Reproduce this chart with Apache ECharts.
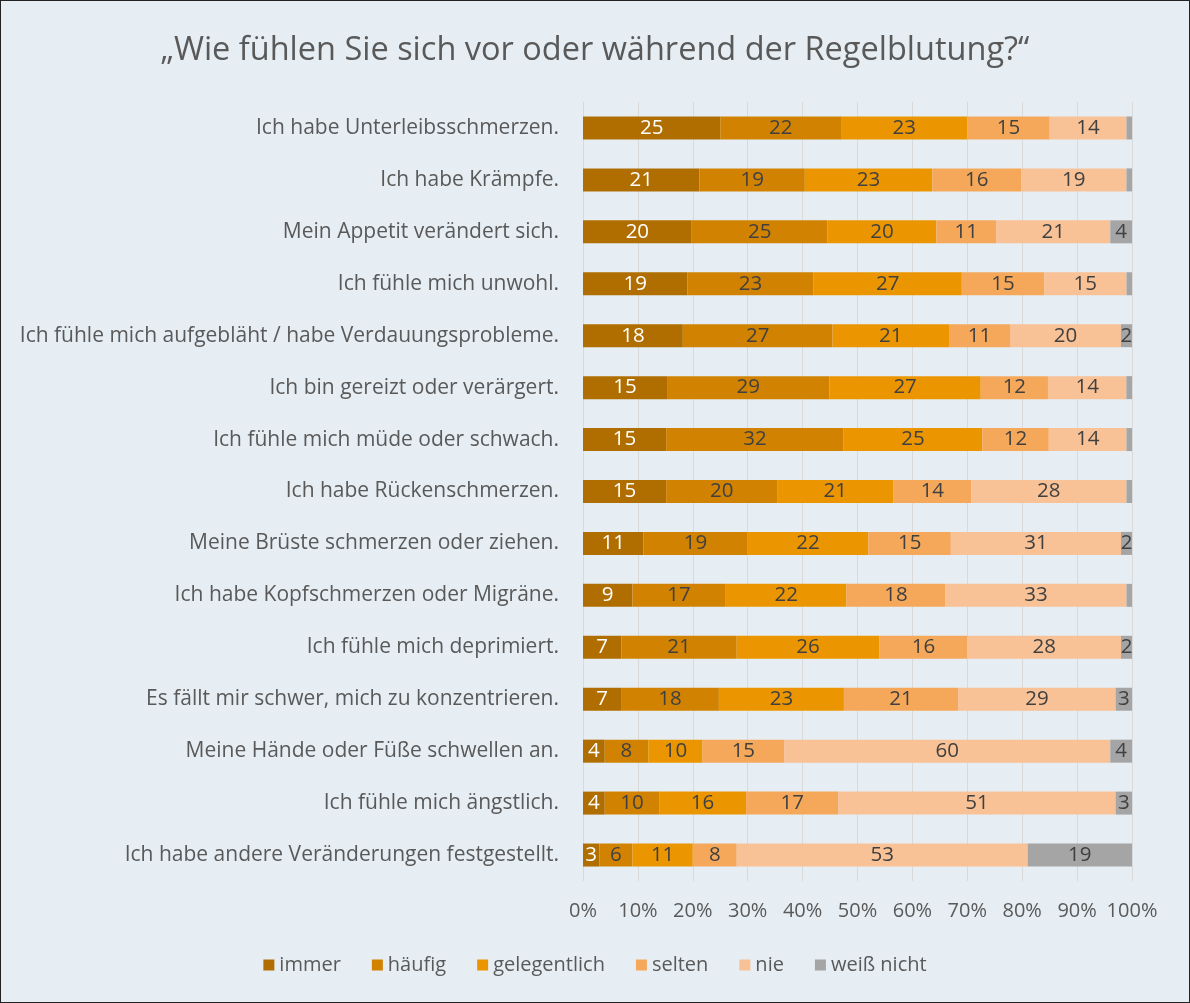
<!DOCTYPE html>
<html>
<head>
<meta charset="utf-8">
<script src="https://cdn.jsdelivr.net/npm/echarts@6/dist/echarts.min.js"></script>
<style>
  html, body { margin: 0; padding: 0; background: #e6eef4; }
  #chart { width: 1190px; height: 1003px; box-sizing: border-box; border: 1.5px solid #222; }
</style>
</head>
<body>
<div id="chart"></div>
<script>
// statements, top to bottom
const categories = [
  'Ich habe Unterleibsschmerzen.',
  'Ich habe Krämpfe.',
  'Mein Appetit verändert sich.',
  'Ich fühle mich unwohl.',
  'Ich fühle mich aufgebläht / habe Verdauungsprobleme.',
  'Ich bin gereizt oder verärgert.',
  'Ich fühle mich müde oder schwach.',
  'Ich habe Rückenschmerzen.',
  'Meine Brüste schmerzen oder ziehen.',
  'Ich habe Kopfschmerzen oder Migräne.',
  'Ich fühle mich deprimiert.',
  'Es fällt mir schwer, mich zu konzentrieren.',
  'Meine Hände oder Füße schwellen an.',
  'Ich fühle mich ängstlich.',
  'Ich habe andere Veränderungen festgestellt.'
];

const immer        = [25, 21, 20, 19, 18, 15, 15, 15, 11, 9, 7, 7, 4, 4, 3];
const haeufig      = [22, 19, 25, 23, 27, 29, 32, 20, 19, 17, 21, 18, 8, 10, 6];
const gelegentlich = [23, 23, 20, 27, 21, 27, 25, 21, 22, 22, 26, 23, 10, 16, 11];
const selten       = [15, 16, 11, 15, 11, 12, 12, 14, 15, 18, 16, 21, 15, 17, 8];
const nie          = [14, 19, 21, 15, 20, 14, 14, 28, 31, 33, 28, 29, 60, 51, 53];
const weissNicht   = [1, 1, 4, 1, 2, 1, 1, 1, 2, 1, 2, 3, 4, 3, 19];

const xTicks = [0, 10, 20, 30, 40, 50, 60, 70, 80, 90, 100];

const seriesDefs = [
  { name: 'immer', data: immer, color: '#b06e00', text: '#ffffff' },
  { name: 'häufig', data: haeufig, color: '#d18200', text: '#404040' },
  { name: 'gelegentlich', data: gelegentlich, color: '#eb9600', text: '#404040' },
  { name: 'selten', data: selten, color: '#f5a85a', text: '#404040' },
  { name: 'nie', data: nie, color: '#f8c196', text: '#404040' },
  { name: 'weiß nicht', data: weissNicht, color: '#a5a5a5', text: '#404040' }
];

// 100% stacked: each row scaled to its total
const rowSums = categories.map((_, i) => seriesDefs.reduce((s, d) => s + d.data[i], 0));

const FONT = '"Open Sans", "Noto Sans", sans-serif';

const chart = echarts.init(document.getElementById('chart'));

chart.setOption({
  animation: false,
  backgroundColor: '#e6eef4',
  textStyle: { fontFamily: FONT },
  title: {
    text: '„Wie fühlen Sie sich vor oder während der Regelblutung?“',
    left: 'center',
    top: 28,
    textStyle: { fontFamily: FONT, fontSize: 32.5, fontWeight: 'normal', color: '#595959' }
  },
  legend: {
    bottom: 22,
    left: 'center',
    itemWidth: 11,
    itemHeight: 11,
    itemGap: 31,
    icon: 'rect',
    textStyle: { fontFamily: FONT, fontSize: 20, color: '#595959' },
    data: seriesDefs.map(d => d.name)
  },
  grid: { left: 582, right: 57, top: 101, bottom: 121, containLabel: false },
  xAxis: {
    type: 'value',
    min: 0,
    max: 100,
    interval: 10,
    axisLine: { show: false },
    axisTick: { show: false },
    splitLine: { lineStyle: { color: '#d9d9d9', width: 1 } },
    axisLabel: {
      fontFamily: FONT,
      fontSize: 20,
      color: '#595959',
      margin: 20,
      formatter: v => (xTicks.includes(v) ? v + '%' : '')
    }
  },
  yAxis: {
    type: 'category',
    inverse: true,
    data: categories,
    axisLine: { show: false },
    axisTick: { show: false },
    axisLabel: { fontFamily: FONT, fontSize: 21, color: '#595959', margin: 24 }
  },
  series: seriesDefs.map(d => ({
    name: d.name,
    type: 'bar',
    stack: 'total',
    barWidth: 23,
    itemStyle: { color: d.color },
    label: {
      show: true,
      position: 'inside',
      fontFamily: FONT,
      fontSize: 20.5,
      color: d.text,
      formatter: p => (d.data[p.dataIndex] >= 2 ? String(d.data[p.dataIndex]) : '')
    },
    data: d.data.map((v, i) => v / rowSums[i] * 100)
  }))
});
</script>
</body>
</html>
